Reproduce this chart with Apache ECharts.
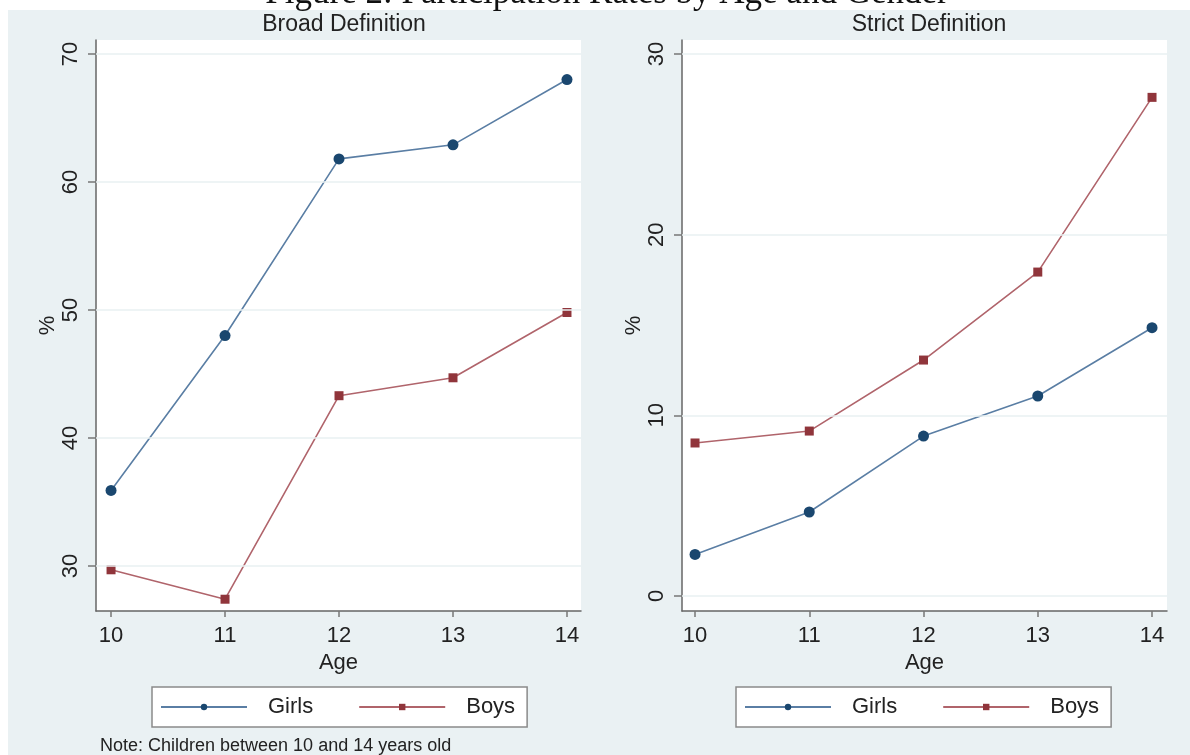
<!DOCTYPE html>
<html>
<head>
<meta charset="utf-8">
<script src="https://cdn.jsdelivr.net/npm/echarts@6/dist/echarts.min.js"></script>
<style>html,body{margin:0;padding:0;background:#fff}#c{width:1190px;height:755px}</style>
</head>
<body>
<div id="c"></div>
<script>
const ages = [10, 11, 12, 13, 14];
const broadGirls = [35.9, 48.0, 61.8, 62.9, 68.0];
const broadBoys = [29.7, 27.4, 43.3, 44.7, 49.8];
const strictGirls = [2.3, 4.65, 8.85, 11.07, 14.85];
const strictBoys = [8.47, 9.13, 13.06, 17.93, 27.6];
const broadTicks = [30, 40, 50, 60, 70];
const strictTicks = [0, 10, 20, 30];
const titleText = 'Figure 2: Participation Rates by Age and Gender';
const panelTitles = ['Broad Definition', 'Strict Definition'];
const noteText = 'Note: Children between 10 and 14 years old';

const FONT = 'Liberation Sans';
const BG = '#eaf1f3';
const navy = '#1a476f', navyLine = '#5a7ea4';
const maroon = '#90353b', maroonLine = '#b0646b';

function pairs(ys) { return ages.map((a, i) => [a, ys[i]]); }

function xAx(gi, min, max) {
  return {
    type: 'value', gridIndex: gi, min: min, max: max,
    name: 'Age', nameLocation: 'middle', nameGap: 36,
    nameTextStyle: { fontFamily: FONT, fontSize: 22, color: '#222' },
    axisLine: { onZero: false, lineStyle: { color: '#666', width: 1.5 } },
    axisTick: { show: true, length: 6, lineStyle: { color: '#777', width: 1.5 }, customValues: ages },
    axisLabel: { fontFamily: FONT, fontSize: 22, color: '#222', margin: 14, customValues: ages },
    splitLine: { show: false }
  };
}
function yAx(gi, min, max, ticks) {
  return {
    type: 'value', gridIndex: gi, min: min, max: max,
    name: '%', nameLocation: 'middle', nameGap: 36, nameRotate: 90,
    nameTextStyle: { fontFamily: FONT, fontSize: 22, color: '#222' },
    axisLine: { show: true, onZero: false, lineStyle: { color: '#666', width: 1.5 } },
    axisTick: { show: true, length: 8, lineStyle: { color: '#777', width: 1.5 }, customValues: ticks },
    axisLabel: { fontFamily: FONT, fontSize: 22, color: '#222', rotate: 90, margin: 14, customValues: ticks },
    splitLine: { show: false }
  };
}
function gridLines(ticks) {
  return {
    silent: true, symbol: 'none', label: { show: false },
    lineStyle: { color: '#e9f0f2', width: 1.5, type: 'solid' },
    data: ticks.map(t => ({ yAxis: t }))
  };
}
function ser(name, gi, ys, sym, mc, lc, ticks) {
  const s = {
    name: name, type: 'line', xAxisIndex: gi, yAxisIndex: gi,
    data: pairs(ys), symbol: sym, symbolSize: sym === 'circle' ? 11 : 9,
    lineStyle: { color: lc, width: 1.6 },
    itemStyle: { color: mc },
    animation: false, z: 3
  };
  if (ticks) s.markLine = gridLines(ticks);
  return s;
}
function legend(left) {
  return {
    left: left, top: 687, orient: 'horizontal',
    data: ['Girls', 'Boys'],
    itemWidth: 86, itemHeight: 8, itemGap: 45,
    padding: [9, 12, 9, 8],
    backgroundColor: '#fff', borderColor: '#8a8a8a', borderWidth: 1.5,
    textStyle: { fontFamily: FONT, fontSize: 22, color: '#222', padding: [0, 0, 0, 16] },
    selectedMode: false
  };
}

const chart = echarts.init(document.getElementById('c'), null, { renderer: 'canvas' });
chart.setOption({
  animation: false,
  backgroundColor: '#fff',
  graphic: [
    { type: 'rect', z: -10, shape: { x: 8, y: 10, width: 1182, height: 745 }, style: { fill: BG } },
    { type: 'text', z: 10, left: 100, top: 737, style: { text: noteText, fontFamily: FONT, fontSize: 18, fill: '#222' } }
  ],
  title: [
    { text: titleText, left: 602, top: -29, textAlign: 'center', textStyle: { fontFamily: 'Liberation Serif', fontSize: 35, fontWeight: 'normal', color: '#111' } },
    { text: panelTitles[0], left: 339, top: 8, textAlign: 'center', textStyle: { fontFamily: FONT, fontSize: 23, fontWeight: 'normal', color: '#222' } },
    { text: panelTitles[1], left: 924, top: 8, textAlign: 'center', textStyle: { fontFamily: FONT, fontSize: 23, fontWeight: 'normal', color: '#222' } }
  ],
  grid: [
    { left: 96, top: 40, width: 485, height: 571, show: true, backgroundColor: '#fff', borderWidth: 0 },
    { left: 682, top: 40, width: 485, height: 571, show: true, backgroundColor: '#fff', borderWidth: 0 }
  ],
  xAxis: [xAx(0, 9.868, 14.123), xAx(1, 9.886, 14.131)],
  yAxis: [yAx(0, 26.48, 71.09, broadTicks), yAx(1, -0.83, 30.775, strictTicks)],
  legend: [legend(152), legend(736)],
  series: [
    ser('Girls', 0, broadGirls, 'circle', navy, navyLine, broadTicks),
    ser('Boys', 0, broadBoys, 'rect', maroon, maroonLine),
    ser('Girls', 1, strictGirls, 'circle', navy, navyLine, strictTicks),
    ser('Boys', 1, strictBoys, 'rect', maroon, maroonLine)
  ]
});
</script>
</body>
</html>
